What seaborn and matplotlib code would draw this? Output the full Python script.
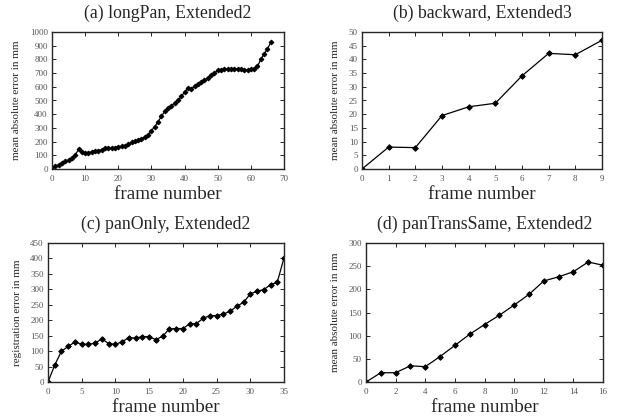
import numpy as np
import pandas as pd
import matplotlib
matplotlib.use("Agg")
import matplotlib.pyplot as plt
import seaborn as sns

# values
longpan_err = [0, 20, 30, 45, 55, 65, 80, 100, 145, 125, 115, 120, 125, 135, 135, 140,
               150, 150, 155, 155, 160, 165, 165, 180, 195, 205, 210, 220, 230, 250, 280,
               310, 345, 385, 420, 445, 460, 480, 500, 530, 560, 590, 585, 605, 620, 635,
               650, 665, 685, 700, 720, 725, 730, 728, 728, 732, 730, 728, 725, 722, 730,
               730, 750, 800, 840, 875, 925]
backward_err = [0, 8, 7.8, 19.5, 22.7, 24, 34, 42.2, 41.7, 47]
panonly_err = [0, 55, 100, 115, 130, 122, 122, 126, 140, 124, 122, 130, 144, 142, 147, 147,
               137, 148, 172, 173, 173, 188, 189, 206, 215, 215, 220, 229, 245, 258, 285,
               294, 299, 315, 323, 402]
pantrans_err = [0, 20, 20, 35, 33, 55, 79, 103, 124, 144, 166, 189, 218, 227, 238, 259, 252]

titles = ["(a) longPan, Extended2", "(b) backward, Extended3",
          "(c) panOnly, Extended2", "(d) panTransSame, Extended2"]
ylabels = ["mean absolute error in mm", "mean absolute error in mm",
           "registration error in mm", "mean absolute error in mm"]
xlims = [(0, 70), (0, 9), (0, 35), (0, 16)]
xtick_steps = [10, 1, 5, 2]
ylims = [(0, 1000), (0, 50), (0, 450), (0, 300)]
ytick_steps = [100, 5, 50, 50]

sns.set_style("ticks")
plt.rcParams['font.family'] = ['Liberation Serif', 'DejaVu Serif']

fig = plt.figure(figsize=(6.18, 4.19), dpi=100)
W, H = 618, 419
# axes boxes in pixels: left, top, right, bottom
boxes = [(52, 32, 284, 169), (362, 32, 602, 169),
         (48, 243, 284, 382), (366, 243, 603, 382)]

series = [longpan_err, backward_err, panonly_err, pantrans_err]
for i, vals in enumerate(series):
    l, t, r, b = boxes[i]
    ax = fig.add_axes([l / W, 1 - b / H, (r - l) / W, (b - t) / H])
    df = pd.DataFrame({"frame": np.arange(len(vals)), "err": vals})
    ms = 2.4 if i == 0 else 2.8
    sns.lineplot(data=df, x="frame", y="err", ax=ax, color="black", lw=0.9,
                 marker="D", markersize=ms, markeredgecolor="black")
    ax.set_xlim(*xlims[i])
    ax.set_ylim(*ylims[i])
    ax.set_xticks(np.arange(xlims[i][0], xlims[i][1] + 0.01, xtick_steps[i]))
    ax.set_yticks(np.arange(ylims[i][0], ylims[i][1] + 0.01, ytick_steps[i]))
    ax.tick_params(direction="in", top=True, right=True, length=3, width=0.7,
                   labelsize=6.5, labelcolor="#555555", pad=3)
    ax.tick_params(axis="x", pad=4.5)
    for s in ax.spines.values():
        s.set_linewidth(1.0)
    ax.set_xlabel("frame number", fontsize=13.8, labelpad=2)
    ax.set_ylabel(ylabels[i], fontsize=8, labelpad=6)
    ax.set_title(titles[i], fontsize=12.8, pad=10)

fig.savefig("out.png", dpi=100)
